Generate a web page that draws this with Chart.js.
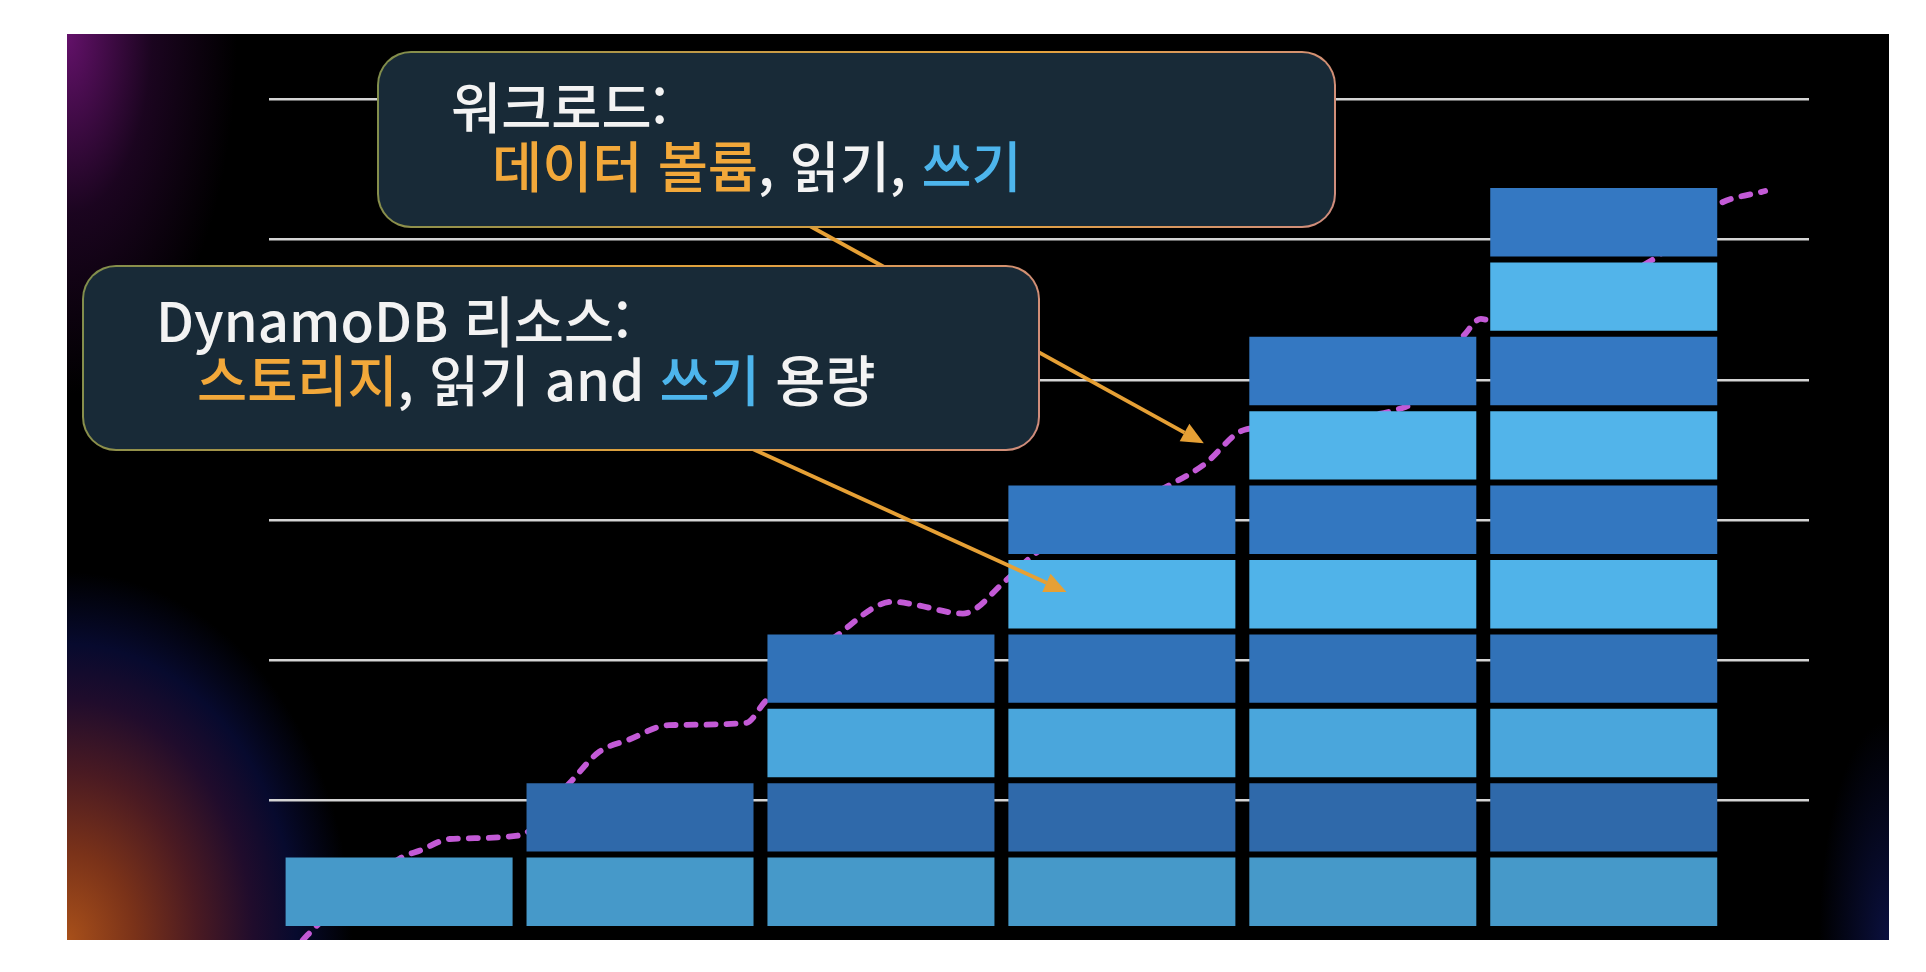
<!DOCTYPE html>
<html lang="ko">
<head>
<meta charset="utf-8">
<title>DynamoDB 용량</title>
<script src="https://cdn.jsdelivr.net/npm/chart.js@4.4.1/dist/chart.umd.min.js"></script>
<style>
  html, body { margin: 0; padding: 0; background: #fff; }
  body {
    width: 1926px; height: 972px; position: relative; overflow: hidden;
    font-family: "Noto Sans CJK KR", "Noto Sans", sans-serif;
  }
  #panel {
    position: absolute; left: 67px; top: 34px; width: 1822px; height: 906px;
    background:
      radial-gradient(ellipse 170px 360px at 0 0, rgba(105, 18, 112, 0.95), rgba(60, 10, 70, 0.45) 50%, rgba(0, 0, 0, 0) 100%),
      radial-gradient(ellipse 310px 400px at 0 100%, #a8501a 0%, #7a3219 22%, #4a1a22 42%, #200c2c 60%, #070a2e 74%, rgba(0, 0, 0, 0) 92%),
      radial-gradient(ellipse 70px 220px at 100% 100%, rgba(12, 18, 70, 0.9), rgba(0, 0, 0, 0)),
      #000;
  }
  #chart-wrap {
    position: absolute; left: 0; top: 0; width: 1926px; height: 972px;
    clip-path: inset(34px 37px 32px 67px);
  }
  .callout {
    position: absolute; box-sizing: border-box;
    border: 2.5px solid transparent; border-radius: 34px;
    background:
      linear-gradient(#182a37, #182a37) padding-box,
      linear-gradient(105deg, #7f8d4c 0%, #c49a46 35%, #e3a23c 65%, #cf8c7e 100%) border-box;
    color: #f3f3f3; font-size: 54.5px; font-weight: 500; line-height: 59px;
    padding-top: 22px; padding-left: 72px; white-space: nowrap;
  }
  .callout .indent { padding-left: 41px; }
  .orange { color: #f2a83a; }
  .blue { color: #4db5ec; }
  #workload { left: 377px; top: 51px; width: 959px; height: 177px; }
  #resources { left: 82px; top: 265px; width: 958px; height: 186px; }
</style>
</head>
<body>
<div id="panel"></div>
<div id="chart-wrap"><canvas id="capacity-chart"></canvas></div>

<div class="callout" id="workload">
  <div>워크로드:</div>
  <div class="indent"><span class="orange">데이터 볼륨</span>, 읽기, <span class="blue">쓰기</span></div>
</div>
<div class="callout" id="resources">
  <div>DynamoDB 리소스:</div>
  <div class="indent"><span class="orange">스토리지</span>, 읽기 and <span class="blue">쓰기</span> 용량</div>
</div>

<script>
// stages along the x axis, and how many capacity blocks each one has
const stages = [0, 1, 2, 3, 4, 5];
const blocksPerStage = [1, 2, 4, 6, 8, 10];

// colour of each block level, bottom to top
const levelColors = ['#4699c9', '#2f69aa', '#4aa6dc', '#3172b8', '#50b3e9',
                     '#3377c0', '#52b4ea', '#3478c2', '#52b4ea', '#3478c2'];

// dashed workload curve (same units as the blocks)
const workloadX = [-0.40, -0.34, 0.005, 0.09, 0.21, 0.50, 0.71, 0.83, 0.95, 1.12, 1.44,
                   1.52, 1.82, 2.05, 2.14, 2.34, 2.52, 2.65, 3.20, 3.34, 3.51, 4.18,
                   4.42, 4.49, 4.53, 5.20, 5.47, 5.67];
const workloadY = [-0.15, 0.05, 0.95, 1.06, 1.21, 1.26, 1.97, 2.38, 2.54, 2.74, 2.77,
                   3.06, 3.95, 4.40, 4.36, 4.24, 4.69, 5.07, 5.97, 6.24, 6.71, 7.02,
                   7.98, 8.20, 8.18, 8.99, 9.73, 9.92];

// horizontal guide lines
const gridLevels = [0, 1, 2, 3, 4, 5, 6];

// callout arrows: start and tip, in chart units
const arrowFrom = [[1.62, 9.60], [1.34, 6.64]];
const arrowTo = [[3.34, 6.53], [2.77, 4.53]];

const levelDatasets = levelColors.map((color, k) => ({
    label: 'level ' + (k + 1),
    data: stages.map((s, i) => ({ x: s, y: blocksPerStage[i] > k ? 1 : null })),
    backgroundColor: color,
    borderColor: 'rgba(0,0,0,0)',
    borderWidth: 3,
    borderSkipped: false,
    inflateAmount: 0,
    barThickness: 233,
    order: 0
}));

const arrowPlugin = {
    id: 'calloutArrows',
    afterDatasetsDraw(chart) {
        const ctx = chart.ctx;
        const xs = chart.scales.x, ys = chart.scales.y;
        ctx.save();
        ctx.strokeStyle = '#e6a035';
        ctx.fillStyle = '#e6a035';
        ctx.lineWidth = 3.8;
        arrowFrom.forEach((from, i) => {
            const x1 = xs.getPixelForValue(from[0]), y1 = ys.getPixelForValue(from[1]);
            const x2 = xs.getPixelForValue(arrowTo[i][0]), y2 = ys.getPixelForValue(arrowTo[i][1]);
            const ang = Math.atan2(y2 - y1, x2 - x1);
            const head = 22, half = 10;
            const bx = x2 - head * Math.cos(ang), by = y2 - head * Math.sin(ang);
            ctx.beginPath();
            ctx.moveTo(x1, y1);
            ctx.lineTo(bx, by);
            ctx.stroke();
            ctx.beginPath();
            ctx.moveTo(x2, y2);
            ctx.lineTo(bx + half * Math.sin(ang), by - half * Math.cos(ang));
            ctx.lineTo(bx - half * Math.sin(ang), by + half * Math.cos(ang));
            ctx.closePath();
            ctx.fill();
        });
        ctx.restore();
    }
};

const chartCtx = document.getElementById('capacity-chart').getContext('2d');
new Chart(chartCtx, {
    type: 'bar',
    data: {
        datasets: [
            ...levelDatasets,
            {
                type: 'line',
                label: 'workload',
                data: workloadX.map((x, i) => ({ x: x, y: workloadY[i] })),
                borderColor: '#c35ad6',
                borderWidth: 5.8,
                borderDash: [9, 11],
                borderCapStyle: 'round',
                pointRadius: 0,
                cubicInterpolationMode: 'monotone',
                stack: 'workload',
                clip: false,
                order: 20
            }
        ]
    },
    options: {
        responsive: true,
        maintainAspectRatio: false,
        animation: false,
        layout: { padding: { left: 269, right: 117, top: 99.5, bottom: 31 } },
        plugins: { legend: { display: false }, tooltip: { enabled: false } },
        scales: {
            x: {
                type: 'linear',
                min: -0.54,
                max: 5.852,
                offset: false,
                stacked: true,
                display: false
            },
            y: {
                type: 'linear',
                min: -0.161,
                max: 11.149,
                stacked: true,
                display: false
            },
            yGrid: {
                type: 'linear',
                position: 'left',
                min: 0,
                max: 6,
                ticks: { display: false, stepSize: 1 },
                afterBuildTicks: scale => { scale.ticks = gridLevels.map(v => ({ value: v })); },
                grid: { color: '#d4d4d4', lineWidth: 2.6, drawTicks: false },
                border: { display: false }
            }
        }
    },
    plugins: [arrowPlugin]
});
</script>
</body>
</html>
